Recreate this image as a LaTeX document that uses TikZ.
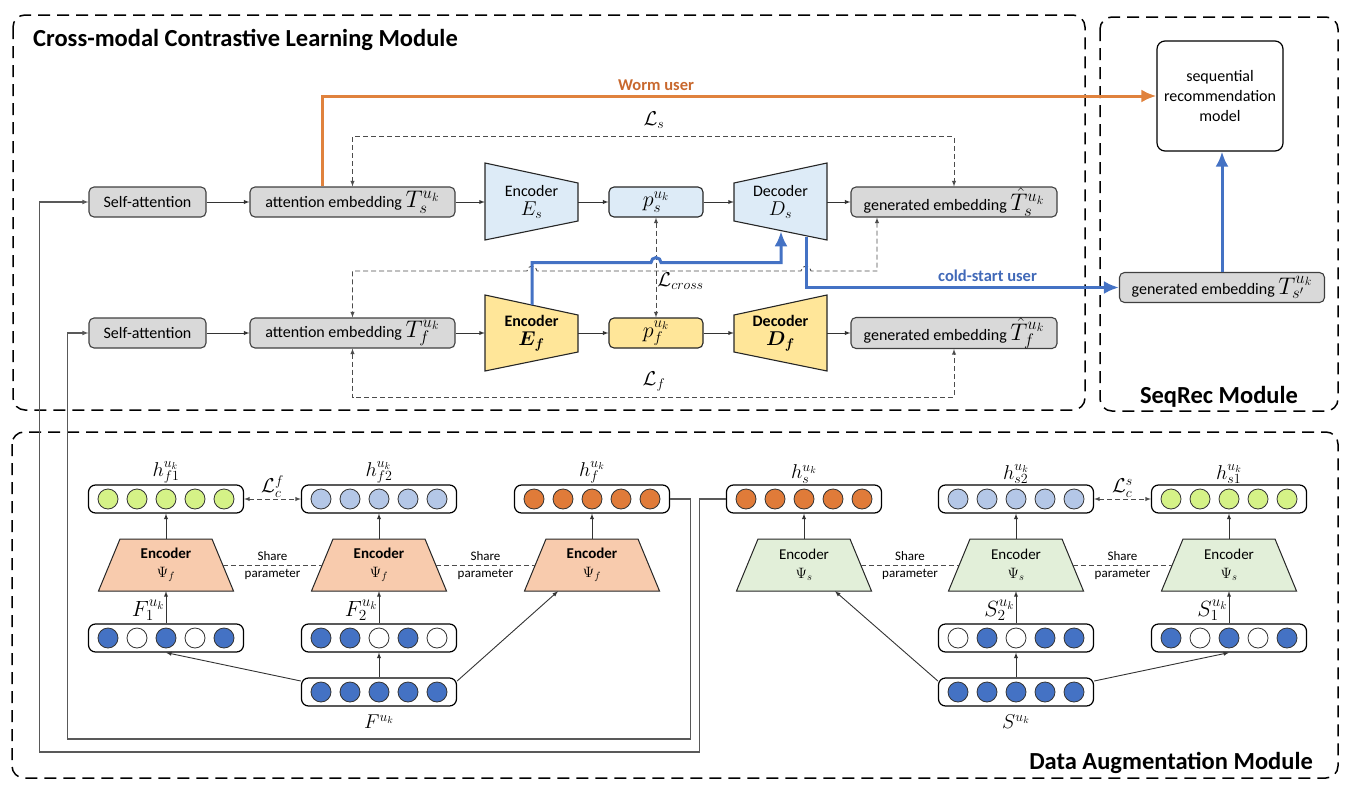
\RequirePackage{fix-cm}
\documentclass[tikz,border=0pt]{standalone}
\usepackage[no-math]{fontspec}
\setmainfont{Carlito}
\usetikzlibrary{positioning,calc,arrows.meta}

\definecolor{boxgray}{HTML}{D9D9D9}
\definecolor{edgegray}{HTML}{404040}
\definecolor{lblue}{HTML}{DDEBF7}
\definecolor{lyellow}{HTML}{FFE699}
\definecolor{wormline}{HTML}{E0823D}
\definecolor{wormtext}{HTML}{C8682E}
\definecolor{coldline}{HTML}{4472C4}
\definecolor{coldtext}{HTML}{4169B8}
\definecolor{limec}{HTML}{D5F287}
\definecolor{slatec}{HTML}{B4C7E7}
\definecolor{orangec}{HTML}{E07B39}
\definecolor{bluec}{HTML}{4472C4}
\definecolor{salmonc}{HTML}{F8CBAD}
\definecolor{greenc}{HTML}{E2EFD9}

\newcommand{\fmath}[2]{{\fontsize{#1}{#1}\selectfont$#2$}}

\begin{document}
\begin{tikzpicture}[x=1pt, y=-1pt,
    every node/.style={font=\fontsize{16}{19}\selectfont},
    box/.style={draw=edgegray, fill=boxgray, rounded corners=5pt, line width=1.1pt,
                minimum height=30pt, inner sep=0pt},
    trap/.style={draw=black!85, line width=1.1pt},
    hold/.style={minimum width=93pt, minimum height=77pt, inner sep=0pt, align=center},
    enc/.style={minimum width=113.5pt, minimum height=52pt, inner sep=0pt, align=center,
                font=\fontsize{15}{18}\selectfont},
    flow/.style={draw=black!80, line width=0.9pt, -latex},
    feed/.style={draw=black!65, line width=1.1pt, -latex},
    loss/.style={draw=black!70, line width=0.9pt, dash pattern=on 5pt off 3pt, latex-latex},
    share/.style={draw=black!70, line width=0.9pt, dash pattern=on 5pt off 3pt},
    module/.style={draw=black, line width=1.5pt, dash pattern=on 12pt off 7pt, rounded corners=12pt},
    title/.style={font=\fontsize{24.5}{28}\selectfont\bfseries, inner sep=0pt},
    vec/.style={draw=black, line width=1.2pt, rounded corners=7pt, minimum width=155pt,
                minimum height=28pt, inner sep=0pt},
    dot/.style={circle, draw=black!80, line width=0.8pt, minimum size=20pt, inner sep=0pt},
    lbl/.style={inner sep=1pt},
    small/.style={font=\fontsize{13}{15}\selectfont, inner sep=1pt},
    worm/.style={draw=wormline, line width=3pt, -{Latex[length=15pt,width=13pt]}},
    cold/.style={draw=coldline, line width=3pt, -{Latex[length=15pt,width=13pt]}}]

  \useasboundingbox (0,0) rectangle (1350,790);

  \draw[module] (13,15) rectangle (1085,410);
  \draw[module] (1100,17) rectangle (1338,411);
  \draw[module] (12,432) rectangle (1338,778);
  \node[title, anchor=west] (tcm) at (33,40) {Cross-modal Contrastive Learning Module};
  \node[title] (tsr) at (1219,397) {SeqRec Module};
  \node[title, anchor=east] (tda) at (1313,763) {Data Augmentation Module};

  \draw[trap, fill=lblue] (485,163) -- (578,183) -- (578,221) -- (485,240) -- cycle;
  \draw[trap, fill=lblue] (734,183) -- (827,163) -- (827,240) -- (734,221) -- cycle;
  \draw[trap, fill=lyellow] (485,295) -- (578,315) -- (578,352) -- (485,371) -- cycle;
  \draw[trap, fill=lyellow] (734,315) -- (827,295) -- (827,371) -- (734,352) -- cycle;

  \node[box, minimum width=117pt] (sas) at (147.5,202) {Self-attention};
  \node[box, minimum width=205pt] (attes) at (352.5,202) {attention embedding \fmath{24}{T_s^{u_k}}};
  \node[hold] (encs) at (531.5,202) {Encoder\\\fmath{20}{E_s}};
  \node[box, fill=lblue, draw=black!85, minimum width=94pt] (ps) at (656,202) {\fmath{22}{p_s^{u_k}}};
  \node[hold] (decs) at (780.5,202) {Decoder\\\fmath{20}{D_s}};
  \node[box, minimum width=206pt] (gens) at (954,202) {generated embedding \fmath{24}{\hat{T}_s^{u_k}}};

  \node[box, minimum width=117pt] (saf) at (147.5,333) {Self-attention};
  \node[box, minimum width=205pt] (attef) at (352.5,333) {attention embedding \fmath{24}{T_f^{u_k}}};
  \node[hold, font=\fontsize{16}{19}\selectfont\bfseries\boldmath] (encf) at (531.5,333) {Encoder\\\fmath{20}{E_f}};
  \node[box, fill=lyellow, draw=black!85, minimum width=94pt] (pf) at (656,333) {\fmath{22}{p_f^{u_k}}};
  \node[hold, font=\fontsize{16}{19}\selectfont\bfseries\boldmath] (decf) at (780.5,333) {Decoder\\\fmath{20}{D_f}};
  \node[box, minimum width=206pt] (genf) at (954,333) {generated embedding \fmath{24}{\hat{T}_f^{u_k}}};

  \node[draw=black, fill=white, rounded corners=8pt, line width=1.2pt, minimum width=126pt,
        minimum height=110pt, align=center, font=\fontsize{16}{20}\selectfont] (model) at (1220,96)
        {sequential\\recommendation\\model};
  \node[box, minimum width=205pt] (gent) at (1222,287.5) {generated embedding \fmath{24}{T_{s'}^{u_k}}};

  \draw[flow] (sas) -- (attes);
  \draw[flow] (attes) -- (encs);
  \draw[flow] (encs) -- (ps);
  \draw[flow] (ps) -- (decs);
  \draw[flow] (decs) -- (gens);
  \draw[flow] (saf) -- (attef);
  \draw[flow] (attef) -- (encf);
  \draw[flow] (encf) -- (pf);
  \draw[flow] (pf) -- (decf);
  \draw[flow] (decf) -- (genf);

  \draw[loss] (attes.north) |- ($(ps.north)+(0,-50)$) -| (gens.north);
  \node[lbl] (ls) at (654,120) {\fmath{20}{\mathcal{L}_s}};
  \draw[loss] (attef.south) |- ($(pf.south)+(0,49)$) -| (genf.south);
  \node[lbl] (lf) at (654,382) {\fmath{20}{\mathcal{L}_f}};
  \draw[loss] ($(gens.south)+(-77,0)$) |- (811,271) arc[start angle=0, end angle=-180, radius=5]
    -- (537,271) arc[start angle=0, end angle=-180, radius=5] -| (attef.north);
  \draw[loss] (ps) -- (pf) node[pos=0.64, right=0pt, lbl] (lcross) {\fmath{20}{\mathcal{L}_{cross}}};

  \draw[worm] ($(attes.north)+(-30,0)$) |- (model.west)
    node[pos=0.7, above=1pt, text=wormtext, font=\fontsize{16.5}{19}\selectfont\bfseries] (wu) {Worm user};
  \draw[cold] ($(encf.north)+(0.5,10.5)$) |- ($(ps.south)+(-5,45)$)
    arc[start angle=180, end angle=360, radius=5] -| ($(decs.south)+(0.5,-9.4)$);
  \draw[cold] ($(decs.south)+(25.5,-4)$) |- (gent.west)
    node[pos=0.79, above=1pt, text=coldtext, font=\fontsize{16.5}{19}\selectfont\bfseries] (cu) {cold-start user};
  \draw[cold] (gent.north) -- (gent.north |- model.south);

  \foreach \n/\x/\y/\ca/\cb/\cc/\cd/\ce in {
      hfa/166/499/limec/limec/limec/limec/limec,
      hfb/379/499/slatec/slatec/slatec/slatec/slatec,
      hf/592/499/orangec/orangec/orangec/orangec/orangec,
      hs/804/499/orangec/orangec/orangec/orangec/orangec,
      hsb/1016/499/slatec/slatec/slatec/slatec/slatec,
      hsa/1229/499/limec/limec/limec/limec/limec,
      Fa/166/638/bluec/white/bluec/white/bluec,
      Fb/379/638/bluec/bluec/white/bluec/white,
      F/379/692/bluec/bluec/bluec/bluec/bluec,
      Sb/1016/638/white/bluec/white/bluec/bluec,
      Sa/1229/638/bluec/white/bluec/white/bluec,
      S/1016/692/bluec/bluec/bluec/bluec/bluec}{
    \node[vec] (\n) at (\x,\y) {};
    \foreach \c [count=\i] in {\ca,\cb,\cc,\cd,\ce}
      \node[dot, fill=\c] (\n\i) at ($(\n.center)+(\i*29-87,0)$) {};
  }

  \foreach \n/\x/\c/\s/\fw in {efa/166/salmonc/f/\bfseries, efb/379/salmonc/f/\bfseries,
      efc/592/salmonc/f/\bfseries, esc/804/greenc/s/\mdseries, esb/1016/greenc/s/\mdseries,
      esa/1229/greenc/s/\mdseries}{
    \draw[trap, line width=1pt, fill=\c] (\x-46,539) -- (\x+46,539) -- (\x+67.5,591) -- (\x-67.5,591) -- cycle;
    \node[enc] (\n) at (\x,565) {{\fw Encoder}\\[1pt]\fmath{15}{\Psi_\s}};
  }

  \foreach \e/\v in {efa/hfa, efb/hfb, efc/hf, esc/hs, esb/hsb, esa/hsa}
    \draw[flow] (\e) -- (\v);
  \foreach \a/\b in {efa/efb, efb/efc, esc/esb, esb/esa}
    \draw[share] (\a) -- (\b) node[midway, above=3pt, small] (sh\a) {Share}
      node[midway, below=3pt, small] (pm\a) {parameter};

  \draw[flow] (Fa) -- (efa) node[pos=0.4, left=0pt, lbl] (lfa) {\fmath{22}{F_1^{u_k}}};
  \draw[flow] (Fb) -- (efb) node[pos=0.4, left=0pt, lbl] (lfb) {\fmath{22}{F_2^{u_k}}};
  \draw[flow] (Sb) -- (esb) node[pos=0.4, left=0pt, lbl] (lsb) {\fmath{22}{S_2^{u_k}}};
  \draw[flow] (Sa) -- (esa) node[pos=0.4, left=0pt, lbl] (lsa) {\fmath{22}{S_1^{u_k}}};
  \draw[flow] (F) -- (Fb);
  \draw[flow] (F.172) -- (Fa.south);
  \draw[flow] (F.8) -- ($(efc.south)+(-34,0)$);
  \draw[flow] (S) -- (Sb);
  \draw[flow] (S.172) -- ($(esc.south)+(31,0)$);
  \draw[flow] (S.8) -- (Sa.south);

  \draw[loss] (hfa) -- (hfb) node[midway, above=0pt, lbl] (lcf) {\fmath{20}{\mathcal{L}_c^f}};
  \draw[loss] (hsb) -- (hsa) node[midway, above=0pt, lbl] (lcs) {\fmath{20}{\mathcal{L}_c^s}};

  \node[lbl, above=0pt of hfa] (lhfa) {\fmath{20}{h_{f1}^{u_k}}};
  \node[lbl, above=0pt of hfb] (lhfb) {\fmath{20}{h_{f2}^{u_k}}};
  \node[lbl, above=0pt of hf] (lhf) {\fmath{20}{h_f^{u_k}}};
  \node[lbl, above=0pt of hs] (lhs) {\fmath{20}{h_s^{u_k}}};
  \node[lbl, above=0pt of hsb] (lhsb) {\fmath{20}{h_{s2}^{u_k}}};
  \node[lbl, above=0pt of hsa] (lhsa) {\fmath{20}{h_{s1}^{u_k}}};
  \node[lbl, below=7pt of F] (lF) {\fmath{20}{F^{u_k}}};
  \node[lbl, below=7pt of S] (lS) {\fmath{20}{S^{u_k}}};

  \draw[feed] (hs.west) -- ++(-26,0) |- ++(-660,253) |- (sas.west);
  \draw[feed] (hf.east) -- ++(20,0) |- ++(-623,240) |- (saf.west);
\end{tikzpicture}
\end{document}
